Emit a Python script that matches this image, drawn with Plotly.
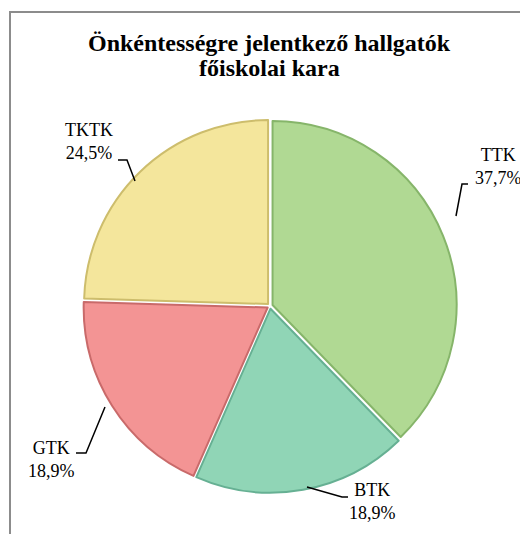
import plotly.graph_objects as go

categories = ["TTK", "BTK", "GTK", "TKTK"]
counts = [20, 10, 10, 13]
fill_colors = ["#b0d993", "#90d5b6", "#f39494", "#f4e69c"]
line_colors = ["#86b56a", "#66b093", "#c96a6a", "#cdbd6c"]

W, H = 528, 534
OFF = 8  # page body margin in the browser
total = sum(counts)
pcts = [c / total * 100 for c in counts]

def px(x, y):
    """screen pixel -> paper coordinate"""
    return (x - OFF) / W, 1 - (y - OFF) / H

cx, cy, r, pull = 270, 306, 184, 0.015
half = r * (1 + pull)
x0, y1 = px(cx - half, cy - half)
x1, y0 = px(cx + half, cy + half)

fig = go.Figure(go.Pie(
    labels=categories, values=counts, sort=False, direction="clockwise",
    rotation=0, pull=[pull] * 4, textinfo="none", hoverinfo="label+percent",
    marker=dict(colors=fill_colors, line=dict(color=line_colors, width=2)),
    domain=dict(x=[x0, x1], y=[y0, y1]),
    showlegend=False,
))

label_pos = {"TTK": (498, 166.5), "BTK": (372, 501.5), "GTK": (51, 459.5), "TKTK": (89, 141.5)}
leaders = {
    "TTK": [(468, 184), (462, 184), (456, 216)],
    "BTK": [(348, 497), (342, 497), (307, 487)],
    "GTK": [(76, 453), (86, 453), (105, 407)],
    "TKTK": [(118, 160), (127, 160), (135, 181)],
}

title_lines = ["Önkéntességre jelentkező hallgatók", "főiskolai kara"]
title_y = [43, 68]
annotations = []
for t, ty in zip(title_lines, title_y):
    x, y = px(269, ty)
    annotations.append(dict(text=f"<b>{t}</b>", x=x, y=y, xref="paper", yref="paper",
                            xanchor="center", yanchor="middle", showarrow=False,
                            font=dict(family="Liberation Serif", size=24, color="black")))

bx0, by1 = px(10, 12)
shapes = [dict(type="rect", xref="paper", yref="paper", x0=bx0, y0=-0.1, x1=1.1, y1=by1,
               line=dict(color="#8c8c8c", width=2), fillcolor="rgba(0,0,0,0)", layer="below")]
for cat, p in zip(categories, pcts):
    x, y = px(*label_pos[cat])
    annotations.append(dict(text=f"{cat}<br>{p:.1f}%".replace(".", ","), x=x, y=y,
                            xref="paper", yref="paper", xanchor="center", yanchor="middle",
                            showarrow=False, align="center",
                            font=dict(family="Liberation Serif", size=18, color="black")))
    pts = [px(a, b) for a, b in leaders[cat]]
    path = "M " + " L ".join(f"{a},{b}" for a, b in pts)
    shapes.append(dict(type="path", path=path, xref="paper", yref="paper",
                       line=dict(color="black", width=1.5)))

fig.update_layout(width=W, height=H, margin=dict(l=0, r=0, t=0, b=0),
                  paper_bgcolor="white", plot_bgcolor="white",
                  annotations=annotations, shapes=shapes)
fig.write_html("out.html")
